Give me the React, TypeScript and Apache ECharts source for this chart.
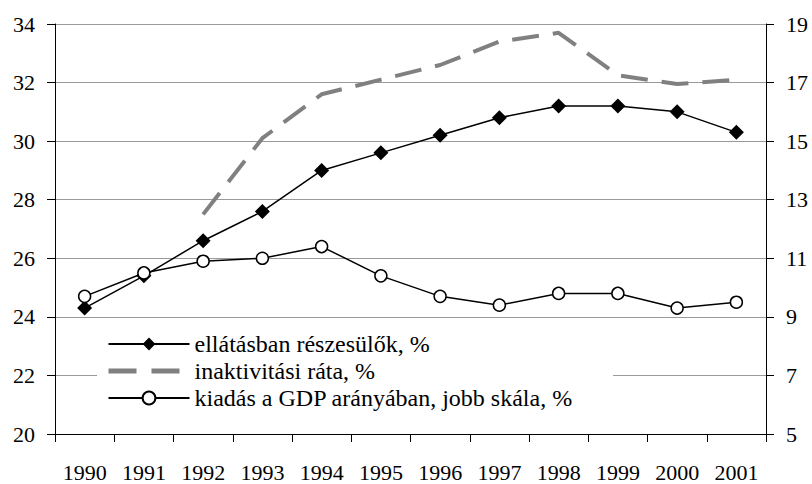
import React, { useEffect, useRef } from "react";
import * as echarts from "echarts";

const years = ["1990", "1991", "1992", "1993", "1994", "1995", "1996", "1997", "1998", "1999", "2000", "2001"];
const recipients = [24.3, 25.4, 26.6, 27.6, 29.0, 29.6, 30.2, 30.8, 31.2, 31.2, 31.0, 30.3];
const inactivity = [null, null, 27.5, 30.1, 31.6, 32.1, 32.6, 33.4, 33.7, 32.25, 31.95, 32.1];
const spending = [9.7, 10.5, 10.9, 11.0, 11.4, 10.4, 9.7, 9.4, 9.8, 9.8, 9.3, 9.5];
const leftTicks = [20, 22, 24, 26, 28, 30, 32, 34];
const rightTicks = [5, 7, 9, 11, 13, 15, 17, 19];
const names = [
  "ellátásban részesülők, %",
  "inaktivitási ráta, %",
  "kiadás a GDP arányában, jobb skála, %",
];

const FONT = "Liberation Serif";

export default function App() {
  const ref = useRef<HTMLDivElement>(null);
  useEffect(() => {
    if (!ref.current) return;
    const chart = echarts.init(ref.current, null, { renderer: "svg" });
    chart.setOption({
      animation: false,
      backgroundColor: "#fff",
      textStyle: { fontFamily: FONT, color: "#000" },
      grid: { left: 55, right: 46, top: 24, bottom: 50, containLabel: false },
      legend: {
        orient: "vertical",
        left: 97,
        top: 324,
        padding: [8, 40, 6, 9],
        backgroundColor: "#fff",
        itemWidth: 81,
        itemHeight: 16,
        itemGap: 3,
        textStyle: { fontFamily: FONT, fontSize: 24, color: "#000" },
        data: [
          { name: names[0] },
          {
            name: names[1],
            itemStyle: { color: "rgba(0,0,0,0)", borderWidth: 0, opacity: 0 },
            lineStyle: { color: "#808080", width: 5, type: [28, 15] },
          },
          { name: names[2] },
        ],
      },
      xAxis: {
        type: "category",
        data: years,
        boundaryGap: true,
        axisLine: { lineStyle: { color: "#000", width: 1 } },
        axisTick: { show: true, interval: 0, length: 8, lineStyle: { color: "#000" } },
        axisLabel: { fontFamily: FONT, fontSize: 22, color: "#000", margin: 27, interval: 0 },
        splitLine: { show: false },
      },
      yAxis: [
        {
          type: "value",
          min: leftTicks[0],
          max: leftTicks[leftTicks.length - 1],
          interval: 2,
          axisLine: { show: true, lineStyle: { color: "#000", width: 1 } },
          axisTick: { show: true, length: 8, lineStyle: { color: "#000" } },
          axisLabel: { fontFamily: FONT, fontSize: 22, color: "#000", margin: 20 },
          splitLine: { show: true, lineStyle: { color: "#9a9a9a", width: 1 } },
        },
        {
          type: "value",
          min: rightTicks[0],
          max: rightTicks[rightTicks.length - 1],
          position: "right",
          axisLine: { show: true, lineStyle: { color: "#000", width: 1 } },
          axisTick: { show: true, length: 8, lineStyle: { color: "#000" }, customValues: rightTicks },
          axisLabel: { fontFamily: FONT, fontSize: 22, color: "#000", margin: 20, customValues: rightTicks },
          splitLine: { show: false },
        },
      ],
      series: [
        {
          name: names[0],
          type: "line",
          data: recipients,
          yAxisIndex: 0,
          symbol: "diamond",
          symbolSize: 15,
          lineStyle: { color: "#000", width: 1.5 },
          itemStyle: { color: "#000" },
          z: 3,
        },
        {
          name: names[1],
          type: "line",
          data: inactivity,
          yAxisIndex: 0,
          symbol: "none",
          connectNulls: false,
          lineStyle: { color: "#808080", width: 4, type: [27, 14] },
          itemStyle: { color: "#808080" },
          z: 2,
        },
        {
          name: names[2],
          type: "line",
          data: spending,
          yAxisIndex: 1,
          symbol: "circle",
          symbolSize: 12,
          lineStyle: { color: "#000", width: 1.5 },
          itemStyle: { color: "#fff", borderColor: "#000", borderWidth: 1.5 },
          z: 4,
        },
      ],
    });
    return () => chart.dispose();
  }, []);
  return (
    <div
      ref={ref}
      style={{ position: "fixed", left: 0, top: 0, width: 812, height: 484 }}
    />
  );
}
